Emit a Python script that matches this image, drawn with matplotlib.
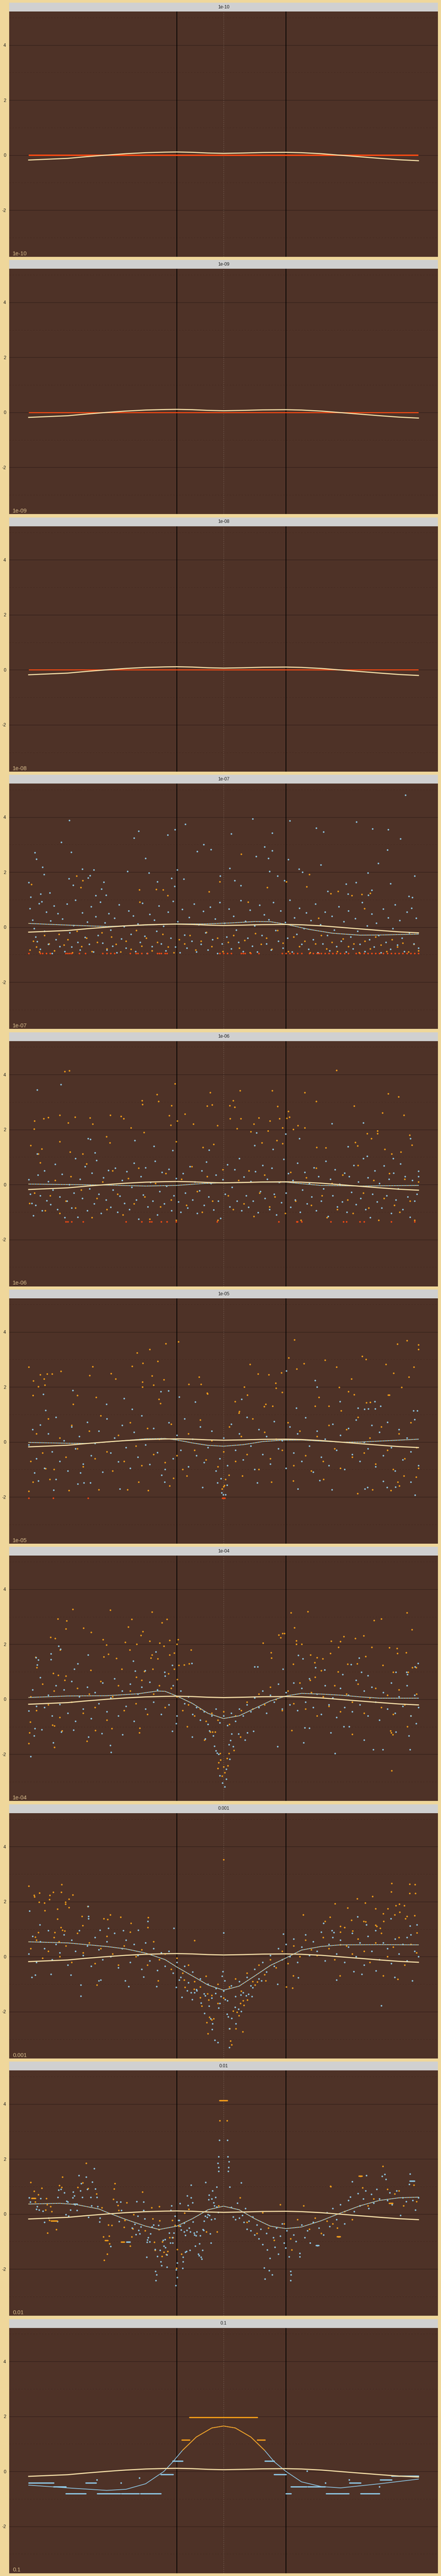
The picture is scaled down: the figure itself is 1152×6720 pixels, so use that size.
import numpy as np
import matplotlib.pyplot as plt

plt.rcParams['font.family'] = ['Liberation Sans', 'DejaVu Sans']

titles = ['1e-10', '1e-09', '1e-08', '1e-07', '1e-06', '1e-05', '1e-04', '0.001', '0.01', '0.1']

# cream reference curve (same in every panel)
ref_x = [0.0, 0.1, 0.15, 0.2, 0.25, 0.3, 0.35, 0.38, 0.42, 0.46, 0.5, 0.55, 0.6, 0.66, 0.7, 0.75, 0.8, 0.85, 0.9, 0.95, 1.0]
ref_y = [-0.18, -0.12, -0.056, 0.0, 0.05, 0.087, 0.106, 0.112, 0.10, 0.075, 0.062, 0.075, 0.093, 0.10, 0.087, 0.05, -0.006, -0.062, -0.118, -0.17, -0.205]

# fitted curves per panel (x, y) for panels 1e-07 .. 0.1
fit_07 = [(0, 0.137), (0.1, 0.075), (0.2, 0.025), (0.3, 0.075), (0.38, 0.118), (0.45, 0.118), (0.52, 0.155), (0.58, 0.205), (0.62, 0.2), (0.66, 0.105), (0.72, -0.08), (0.78, -0.22), (0.85, -0.29), (0.9, -0.285), (1.0, -0.25)]
fit_06 = [(0, 0.018), (0.1, 0.0), (0.2, -0.018), (0.3, -0.054), (0.38, -0.03), (0.45, 0.04), (0.5, 0.066), (0.55, 0.078), (0.6, 0.09), (0.66, 0.09), (0.7, 0.03), (0.75, -0.03), (0.85, -0.054), (1.0, -0.03)]
fit_05 = [(0, -0.018), (0.1, -0.048), (0.15, -0.054), (0.2, -0.006), (0.25, 0.054), (0.3, 0.113), (0.35, 0.125), (0.38, 0.071), (0.42, -0.036), (0.46, -0.125), (0.5, -0.155), (0.55, -0.1), (0.6, 0.012), (0.65, 0.065), (0.7, 0.071), (0.75, 0.03), (0.8, -0.006), (0.85, -0.006), (0.9, 0.03), (1.0, 0.1)]
fit_04 = [(0, 0.066), (0.1, 0.12), (0.2, 0.13), (0.28, 0.2), (0.33, 0.3), (0.35, 0.29), (0.38, 0.12), (0.42, -0.15), (0.46, -0.51), (0.5, -0.7), (0.54, -0.6), (0.58, -0.33), (0.62, -0.06), (0.66, 0.12), (0.7, 0.215), (0.75, 0.19), (0.8, 0.15), (0.85, 0.09), (0.9, 0.04), (1.0, 0.04)]
fit_03 = [(0, 0.54), (0.1, 0.5), (0.2, 0.37), (0.25, 0.28), (0.3, 0.13), (0.35, -0.107), (0.38, -0.376), (0.42, -0.7), (0.46, -1.03), (0.5, -1.22), (0.54, -1.07), (0.58, -0.7), (0.62, -0.32), (0.66, -0.048), (0.7, 0.24), (0.75, 0.37), (0.8, 0.43), (0.9, 0.436), (1.0, 0.43)]
fit_02 = [(0, 0.364), (0.08, 0.39), (0.12, 0.35), (0.18, 0.185), (0.2, 0.066), (0.25, -0.2), (0.3, -0.44), (0.335, -0.56), (0.38, -0.44), (0.42, -0.17), (0.46, 0.155), (0.5, 0.286), (0.54, 0.155), (0.58, -0.17), (0.62, -0.44), (0.66, -0.53), (0.7, -0.47), (0.75, -0.245), (0.8, 0.036), (0.85, 0.3), (0.9, 0.495), (0.95, 0.59), (1.0, 0.614)]
fit_01 = [(0, -0.5), (0.1, -0.6), (0.2, -0.69), (0.25, -0.65), (0.3, -0.45), (0.347, 0.0), (0.37, 0.35), (0.395, 0.77), (0.43, 1.25), (0.47, 1.58), (0.5, 1.65), (0.53, 1.58), (0.57, 1.25), (0.605, 0.77), (0.63, 0.35), (0.66, 0.0), (0.7, -0.38), (0.75, -0.55), (0.8, -0.6), (0.9, -0.45), (1.0, -0.28)]

# scatter points, panel 1e-07
blue_07 = [(0, 1.63), (0.005, 1.1), (0.016, 2.71), (0.02, 2.48), (0.035, 2.19), (0.039, 1.92), (0.031, 1.21), (0.054, 1.25), (0.084, 3.09), (0.104, 3.88),
           (0.109, 2.73), (0.103, 1.77), (0.114, 1.53), (0.138, 2.12), (0.167, 2.09), (0.157, 1.88), (0.152, 1.8), (0.172, 1.15), (0.187, 1.39), (0.193, 1.64),
           (0.198, 1.17), (0.253, 2.03), (0.27, 3.25), (0.282, 3.5), (0.3, 2.5), (0.308, 1.98), (0.33, 1.65), (0.357, 3.35), (0.375, 3.55), (0.381, 2.09),
           (0.366, 1.78), (0.374, 1.49), (0.398, 1.75), (0.402, 3.75), (0.432, 2.76), (0.449, 3.01), (0.468, 2.83), (0.491, 1.87), (0.516, 2.14), (0.52, 3.4),
           (0.528, 1.69), (0.544, 1.51), (0.575, 3.94), (0.583, 2.57), (0.605, 2.92), (0.615, 2.51), (0.618, 2.03), (0.625, 3.42), (0.625, 2.78), (0.638, 1.86),
           (0.656, 1.69), (0.666, 2.47), (0.67, 3.87), (0.693, 2.11), (0.702, 2.01), (0.738, 3.6), (0.749, 2.27), (0.756, 3.47), (0.767, 1.3), (0.841, 3.83),
           (0.84, 1.63), (0.87, 1.98), (0.882, 3.58), (0.897, 2.33), (0.92, 2.81), (0.922, 3.55), (0.928, 1.58), (0.954, 3.22), (0.967, 4.81), (0.99, 1.86),
           (0.814, 1.57), (0.819, 1.21), (0.88, 1.35), (0.871, 1.17), (0.975, 1.12), (0.984, 1.09),
           (0.003, 0.68), (0.01, 0.26), (0.014, -0.05), (0.018, -0.35), (0.022, -0.52), (0.027, 0.86), (0.03, -0.8), (0.033, 0.93), (0.04, -0.15), (0.045, 0.55),
           (0.05, -0.62), (0.056, 0.24), (0.06, -0.95), (0.065, 0.77), (0.07, -0.45), (0.075, 0.5), (0.08, -0.7), (0.087, 0.3), (0.092, -0.88), (0.098, 0.84),
           (0.105, -0.2), (0.11, -0.72), (0.115, 0.07), (0.12, 0.98), (0.126, -0.55), (0.132, -0.83), (0.138, 0.53), (0.144, -0.37), (0.15, 0.19), (0.155, -0.62),
           (0.16, 0.75), (0.166, -0.9), (0.172, 0.38), (0.178, -0.3), (0.184, 0.92), (0.19, -0.58), (0.196, 0.16), (0.2, -0.82), (0.205, 0.5), (0.21, -0.1),
           (0.215, -0.68), (0.22, 0.33), (0.226, -0.92), (0.232, 0.82), (0.238, -0.42), (0.245, 0.02), (0.25, -0.76), (0.256, 0.6), (0.262, -0.25), (0.268, 0.42),
           (0.274, -0.88), (0.28, 0.12), (0.286, -0.55), (0.292, 0.88), (0.298, -0.33), (0.304, -0.95), (0.31, 0.47), (0.316, -0.7), (0.322, 0.26), (0.328, -0.15),
           (0.334, 0.78), (0.34, -0.6), (0.346, 0.04), (0.352, -0.85), (0.358, 0.55), (0.364, -0.4), (0.37, 0.95), (0.376, -0.72), (0.382, 0.2), (0.388, -0.92),
           (0.394, 0.65), (0.4, -0.28), (0.406, -0.75), (0.412, 0.36), (0.418, -0.5), (0.424, 0.85), (0.43, -0.9), (0.436, 0.1), (0.442, -0.62), (0.448, 0.58),
           (0.454, -0.2), (0.46, -0.82), (0.466, 0.74), (0.472, -0.45), (0.478, 0.3), (0.484, -0.95), (0.49, 0.9), (0.496, -0.6), (0.502, 0.15), (0.508, -0.35),
           (0.514, 0.66), (0.52, -0.78), (0.526, 0.4), (0.532, -0.1), (0.538, -0.55), (0.544, 0.97), (0.55, -0.88), (0.556, 0.22), (0.562, -0.4), (0.568, 0.62),
           (0.574, -0.68), (0.58, 0.05), (0.586, -0.9), (0.592, 0.8), (0.598, -0.3), (0.604, 0.45), (0.61, -0.6), (0.616, 0.28), (0.622, -0.82), (0.628, 0.9),
           (0.634, -0.12), (0.64, -0.5), (0.646, 0.6), (0.652, -0.75), (0.658, 0.18), (0.664, -0.4), (0.67, 0.98), (0.676, -0.9), (0.682, 0.35), (0.688, -0.25),
           (0.694, 0.7), (0.7, -0.62), (0.706, -0.05), (0.712, 0.52), (0.718, -0.8), (0.724, 0.25), (0.73, -0.45), (0.736, 0.85), (0.742, -0.92), (0.748, 0.1),
           (0.754, -0.6), (0.76, 0.55), (0.766, -0.3), (0.772, -0.85), (0.778, 0.4), (0.784, -0.1), (0.79, -0.7), (0.796, 0.75), (0.802, -0.5), (0.808, 0.2),
           (0.814, -0.9), (0.82, 0.6), (0.826, -0.35), (0.832, -0.78), (0.838, 0.32), (0.844, -0.15), (0.85, -0.62), (0.856, 0.9), (0.862, -0.88), (0.868, 0.05),
           (0.874, -0.45), (0.88, 0.48), (0.886, -0.72), (0.892, 0.15), (0.898, -0.3), (0.904, -0.92), (0.91, 0.66), (0.916, -0.55), (0.922, 0.35), (0.928, -0.8),
           (0.934, -0.05), (0.94, 0.82), (0.946, -0.65), (0.952, 0.25), (0.958, -0.4), (0.964, -0.88), (0.97, 0.55), (0.976, -0.2), (0.982, 0.7), (0.988, -0.6),
           (0.994, 0.33), (1.0, -0.75)]
orange_07 = [(0.007, 1.56), (0.123, 1.86), (0.139, 1.69), (0.134, 1.45), (0.284, 1.36), (0.285, 0.91), (0.327, 1.37), (0.345, 1.36), (0.357, 1.16), (0.463, 1.29),
             (0.49, 1.65), (0.545, 2.66), (0.563, 0.91), (0.612, 1.45), (0.661, 1.66), (0.713, 1.47), (0.72, 1.92), (0.775, 1.22), (0.794, 1.3), (0.829, 1.16),
             (0.855, 1.19), (0.876, 1.24), (0.861, 0.68), (0.744, 0.33),
             (0.003, -0.83), (0.012, -0.5), (0.02, -0.72), (0.028, -0.9), (0.04, -0.3), (0.052, -0.6), (0.066, -0.85), (0.078, -0.25), (0.09, -0.65), (0.1, -0.45),
             (0.112, -0.92), (0.124, -0.15), (0.136, -0.7), (0.148, -0.4), (0.162, -0.88), (0.176, -0.55), (0.188, -0.2), (0.2, -0.78), (0.212, -0.35), (0.224, -0.62),
             (0.236, -0.9), (0.25, -0.5), (0.262, -0.8), (0.276, -0.12), (0.29, -0.68), (0.302, -0.4), (0.316, -0.85), (0.33, -0.55), (0.344, -0.25), (0.358, -0.72),
             (0.372, -0.92), (0.386, -0.45), (0.4, -0.6), (0.414, -0.3), (0.428, -0.82), (0.442, -0.5), (0.456, -0.18), (0.47, -0.7), (0.484, -0.4), (0.498, -0.88),
             (0.512, -0.55), (0.526, -0.3), (0.54, -0.75), (0.554, -0.48), (0.568, -0.92), (0.582, -0.22), (0.596, -0.62), (0.61, -0.4), (0.624, -0.8), (0.638, -0.12),
             (0.652, -0.58), (0.666, -0.88), (0.68, -0.35), (0.694, -0.7), (0.708, -0.5), (0.722, -0.92), (0.736, -0.6), (0.75, -0.3), (0.764, -0.78), (0.778, -0.55),
             (0.792, -0.88), (0.806, -0.42), (0.82, -0.7), (0.834, -0.6), (0.848, -0.92), (0.862, -0.5), (0.876, -0.78), (0.89, -0.35), (0.904, -0.65), (0.918, -0.88),
             (0.932, -0.45), (0.946, -0.72), (0.96, -0.58), (0.974, -0.9), (0.988, -0.62), (1.0, -0.85)]
red_07_x = [0.0, 0.03, 0.035, 0.045, 0.055, 0.095, 0.1, 0.105, 0.11, 0.13, 0.145, 0.19, 0.2, 0.21, 0.22, 0.26, 0.275, 0.28, 0.29, 0.305, 0.33, 0.335,
            0.34, 0.35, 0.355, 0.49, 0.5, 0.51, 0.52, 0.545, 0.55, 0.555, 0.57, 0.59, 0.65, 0.66, 0.67, 0.68, 0.69, 0.7, 0.72, 0.73, 0.74, 0.745, 0.75,
            0.76, 0.77, 0.78, 0.79, 0.8, 0.81, 0.82, 0.84, 0.85, 0.86, 0.87, 0.88, 0.89, 0.9, 0.91, 0.92, 0.93, 0.94, 0.95, 0.96, 0.97, 0.98, 0.99, 1.0]
red_07_y = -0.95

# panel 1e-06
orange_06 = [(0.092, 4.12), (0.104, 4.14), (0.08, 2.52), (0.101, 2.24), (0.015, 2.32), (0.014, 2.02), (0.038, 2.4), (0.05, 2.44), (0.119, 2.46), (0.157, 2.43),
             (0.164, 2.2), (0.209, 2.53), (0.237, 2.48), (0.244, 2.4), (0.262, 2.06), (0.291, 3.05), (0.292, 2.92), (0.296, 1.9), (0.329, 3.28), (0.333, 3.02),
             (0.361, 2.51), (0.366, 2.87), (0.364, 2.16), (0.375, 3.67), (0.381, 2.32), (0.378, 1.56), (0.401, 2.56), (0.422, 2.21), (0.458, 2.86), (0.466, 3.35),
             (0.471, 2.9), (0.484, 2.15), (0.516, 2.87), (0.525, 3.05), (0.528, 2.82), (0.517, 2.4), (0.534, 2.04), (0.542, 3.41), (0.544, 2.4), (0.57, 1.93),
             (0.578, 2.2), (0.59, 2.42), (0.614, 1.95), (0.619, 2.32), (0.625, 3.41), (0.638, 2.84), (0.643, 2.4), (0.651, 2.06), (0.662, 2.41), (0.666, 2.66),
             (0.669, 2.45), (0.679, 2.01), (0.691, 2.15), (0.708, 3.35), (0.708, 2.07), (0.738, 3.03), (0.79, 4.15), (0.835, 2.86), (0.908, 2.61), (0.922, 3.3),
             (0.949, 3.2), (0.963, 2.52), (0.895, 1.96), (0.895, 1.86), (0.977, 1.8), (0.983, 1.44), (0.005, 1.43), (0.033, 1.3), (0.08, 1.56), (0.838, 1.53),
             (0.844, 1.41), (0.739, 1.35), (0.762, 1.34), (0.637, 1.61), (0.651, 1.5), (0.598, 1.52), (0.474, 1.47), (0.447, 1.35), (0.199, 1.74), (0.208, 1.52),
             (0.139, 1.12), (0.106, 1.18), (0.025, 1.12), (0.913, 1.29), (0.931, 1.12), (0.955, 1.18), (0.868, 1.86), (0.879, 1.68),
             (0.002, -0.68), (0.015, -0.3), (0.03, 0.8), (0.042, -0.95), (0.055, -0.4), (0.068, 0.15), (0.08, -1.05), (0.095, -0.6), (0.108, 0.3), (0.12, -0.85),
             (0.135, -0.2), (0.148, 0.75), (0.162, -1.2), (0.175, -0.5), (0.19, 0.1), (0.2, -0.9), (0.215, 0.5), (0.228, -0.35), (0.242, -1.1), (0.255, 0.22),
             (0.27, -0.7), (0.282, 0.6), (0.298, -0.45), (0.31, -1.25), (0.325, 0.05), (0.338, -0.8), (0.352, 0.4), (0.365, -0.55), (0.378, -1.3), (0.392, 0.2),
             (0.405, -0.75), (0.418, 0.65), (0.432, -0.25), (0.445, -1.0), (0.458, 0.3), (0.472, -0.6), (0.485, -1.3), (0.498, 0.55), (0.512, -0.4), (0.525, -0.9),
             (0.538, 0.15), (0.552, -0.7), (0.565, 0.5), (0.578, -1.15), (0.592, -0.3), (0.605, 0.35), (0.618, -0.8), (0.632, -0.45), (0.645, 0.1), (0.658, -1.05),
             (0.672, 0.45), (0.685, -0.6), (0.698, -1.3), (0.712, 0.25), (0.725, -0.75), (0.738, 0.6), (0.752, -0.4), (0.765, -1.2), (0.778, 0.05), (0.792, -0.9),
             (0.805, 0.35), (0.818, -0.55), (0.832, -1.05), (0.845, 0.7), (0.858, -0.3), (0.872, -0.85), (0.885, 0.15), (0.898, -1.3), (0.912, -0.5), (0.925, 0.4),
             (0.938, -0.75), (0.952, -1.0), (0.965, 0.2), (0.978, -0.6), (0.99, -1.3), (1.0, 0.1)]
blue_06 = [(0.022, 3.45), (0.083, 3.64), (0.152, 1.68), (0.158, 1.65), (0.17, 1.16), (0.272, 1.6), (0.321, 1.4), (0.369, 1.24), (0.463, 1.25), (0.584, 1.89),
           (0.58, 1.43), (0.627, 1.28), (0.659, 1.84), (0.694, 1.68), (0.778, 2.22), (0.819, 1.38), (0.858, 2.24), (0.979, 1.68), (1.0, 0.49), (0.022, 1.12),
           (0.868, 1.04), (0.935, 0.95),
           (0.0, 0.18), (0.004, -0.35), (0.008, -0.68), (0.012, -1.13), (0.018, -0.75), (0.024, 0.35), (0.03, -0.4), (0.034, -0.95), (0.04, 0.5), (0.046, -0.58),
           (0.05, 0.12), (0.056, -0.72), (0.062, -0.2), (0.068, 0.74), (0.074, -0.9), (0.08, -0.45), (0.086, 0.38), (0.092, -1.2), (0.098, -0.6), (0.104, 0.0),
           (0.11, -0.85), (0.116, -0.3), (0.12, 0.95), (0.126, -1.18), (0.132, 0.2), (0.138, -0.5), (0.144, 0.65), (0.15, -0.95), (0.156, -0.15), (0.162, 0.42),
           (0.168, -0.7), (0.174, 0.88), (0.18, -0.35), (0.186, -1.05), (0.192, 0.25), (0.198, -0.55), (0.204, 0.52), (0.21, -0.82), (0.216, -0.2), (0.222, 0.6),
           (0.228, -1.0), (0.234, -0.42), (0.24, 0.15), (0.246, -0.68), (0.252, 0.48), (0.258, -0.9), (0.264, -0.1), (0.27, 0.78), (0.276, -0.55), (0.282, -1.25),
           (0.288, 0.3), (0.294, -0.38), (0.3, 0.62), (0.306, -0.8), (0.312, 0.08), (0.318, -0.6), (0.324, 0.85), (0.33, -1.1), (0.336, -0.25), (0.342, 0.45),
           (0.348, -0.7), (0.354, -0.05), (0.36, 0.56), (0.366, -0.95), (0.372, -0.4), (0.378, 0.22), (0.384, -0.62), (0.39, -1.0), (0.396, 0.4), (0.402, -0.3),
           (0.408, -0.85), (0.414, 0.66), (0.42, -0.55), (0.426, 0.1), (0.432, -1.05), (0.438, -0.22), (0.444, 0.5), (0.45, -0.75), (0.456, 0.82), (0.462, -0.45),
           (0.468, 0.05), (0.474, -0.92), (0.48, 0.35), (0.486, -0.6), (0.492, -1.22), (0.498, 0.18), (0.504, -0.35), (0.51, 0.72), (0.516, -0.8), (0.522, -0.1),
           (0.528, 0.55), (0.534, -0.6), (0.54, 0.95), (0.546, -0.95), (0.552, 0.28), (0.558, -0.4), (0.564, -0.82), (0.57, 0.12), (0.576, -0.6), (0.582, 0.48),
           (0.588, -1.02), (0.594, -0.25), (0.6, 0.7), (0.606, -0.5), (0.612, 0.2), (0.618, -0.9), (0.624, 0.6), (0.63, -0.35), (0.636, -1.1), (0.642, 0.08),
           (0.648, -0.65), (0.654, 0.92), (0.66, -0.3), (0.666, 0.4), (0.672, -0.82), (0.678, 0.15), (0.684, -0.55), (0.69, 0.78), (0.696, -1.0), (0.702, -0.2),
           (0.708, 0.45), (0.714, -0.7), (0.72, 0.05), (0.726, -0.45), (0.732, 0.62), (0.738, -0.95), (0.744, 0.3), (0.75, -0.6), (0.756, -0.15), (0.762, 0.85),
           (0.768, -1.15), (0.774, 0.2), (0.78, -0.4), (0.786, 0.55), (0.792, -0.8), (0.798, 0.02), (0.804, -0.62), (0.81, 0.42), (0.816, -1.0), (0.822, 0.3),
           (0.828, -0.28), (0.834, 0.7), (0.84, -0.72), (0.846, 0.1), (0.852, -0.5), (0.858, 0.95), (0.864, -0.9), (0.87, 0.25), (0.876, -1.2), (0.882, -0.35),
           (0.888, 0.5), (0.894, -0.62), (0.9, 0.05), (0.906, -0.85), (0.912, 0.68), (0.918, -0.4), (0.924, 0.2), (0.93, -1.05), (0.936, 0.42), (0.942, -0.55),
           (0.948, -0.15), (0.954, 0.76), (0.96, -0.9), (0.966, 0.3), (0.972, -0.45), (0.978, -1.18), (0.984, 0.15), (0.99, -0.6), (0.996, -0.35), (1.0, 0.3)]
red_06_x = [0.095, 0.1, 0.11, 0.14, 0.25, 0.29, 0.31, 0.315, 0.34, 0.355, 0.378, 0.483, 0.641, 0.688, 0.69, 0.7, 0.775, 0.807, 0.815, 0.85, 0.86, 0.93, 0.99]
red_06_y = -1.35

# panel 1e-05
orange_05 = [(0, 2.72), (0.012, 2.23), (0.011, 1.69), (0.025, 2.02), (0.03, 2.45), (0.039, 2.3), (0.047, 2.48), (0.06, 2.48), (0.083, 2.57), (0.125, 1.7),
             (0.114, 1.38), (0.156, 2.42), (0.164, 2.74), (0.173, 1.62), (0.211, 2.49), (0.223, 2.3), (0.278, 3.24), (0.265, 2.75), (0.292, 2.18), (0.292, 2.0),
             (0.293, 2.87), (0.31, 3.36), (0.316, 2.4), (0.32, 2.07), (0.331, 2.93), (0.334, 1.55), (0.338, 1.4), (0.347, 2.26), (0.352, 3.58), (0.384, 3.64),
             (0.411, 2.1), (0.437, 2.36), (0.442, 2.1), (0.458, 1.78), (0.459, 1.75), (0.553, 2.0), (0.561, 1.71), (0.568, 2.82), (0.588, 2.48), (0.616, 2.44),
             (0.635, 1.96), (0.648, 2.52), (0.65, 1.8), (0.667, 3.06), (0.682, 3.71), (0.688, 2.65), (0.706, 2.85), (0.76, 2.98), (0.79, 2.73), (0.797, 1.98),
             (0.82, 1.83), (0.828, 2.29), (0.835, 1.72), (0.856, 3.11), (0.865, 3.0), (0.866, 1.43), (0.916, 2.82), (0.936, 2.5), (0.946, 3.56), (0.957, 1.98),
             (0.97, 3.68), (0.975, 2.36), (0.988, 2.73), (1.0, 3.54), (1.0, 3.36), (0.922, 1.71), (0.925, 1.71), (0.876, 1.44), (0.735, 1.31), (0.77, 1.3),
             (0.802, 1.14), (0.745, 1.62), (0.608, 1.38), (0.604, 1.29), (0.626, 1.31), (0.529, 1.47), (0.539, 1.05), (0.54, 1.11), (0.634, 2.14), (0.041, 2.07),
             (0, -1.79), (0.011, -1.46), (0.043, -0.97), (0.054, -1.36), (0.103, -1.76), (0.18, -1.73), (0.253, -1.73), (0.282, -1.45), (0.307, -1.76), (0.362, -1.6),
             (0.371, -1.32), (0.406, -1.24), (0.496, -1.7), (0.5, -1.63), (0.505, -1.36), (0.502, -1.58), (0.514, -1.2), (0.548, -1.23), (0.623, -1.45), (0.679, -1.42),
             (0.756, -1.36), (0.844, -1.88), (0.882, -1.73), (0.929, -1.76), (0.947, -1.45), (0.951, -1.6), (0.963, -1.23), (0.994, -1.27), (1.0, -0.95),
             (0.005, -0.7), (0.02, 0.3), (0.035, -0.4), (0.05, 0.85), (0.065, -1.0), (0.08, 0.15), (0.095, -0.55), (0.11, 0.6), (0.125, -0.25), (0.14, -0.9),
             (0.155, 0.4), (0.17, -0.6), (0.185, 0.95), (0.2, -0.35), (0.215, -1.05), (0.23, 0.25), (0.245, -0.7), (0.26, 0.7), (0.275, -0.15), (0.29, -0.85),
             (0.305, 0.5), (0.32, -0.45), (0.335, 0.1), (0.35, -0.75), (0.365, 0.65), (0.38, -0.5), (0.395, -1.0), (0.41, 0.3), (0.425, -0.3), (0.44, 0.8),
             (0.455, -0.65), (0.47, 0.05), (0.485, -0.9), (0.5, -0.35), (0.515, 0.55), (0.53, -0.7), (0.545, 0.2), (0.56, -0.45), (0.575, 0.85), (0.59, -1.0),
             (0.605, 0.35), (0.62, -0.6), (0.635, 0.1), (0.65, -0.3), (0.665, 0.7), (0.68, -0.85), (0.695, 0.4), (0.71, -0.5), (0.725, -1.05), (0.74, 0.2),
             (0.755, -0.7), (0.77, 0.6), (0.785, -0.25), (0.8, -0.95), (0.815, 0.45), (0.83, -0.55), (0.845, 0.9), (0.86, -0.4), (0.875, 0.15), (0.89, -0.8),
             (0.905, 0.55), (0.92, -0.3), (0.935, -1.0), (0.95, 0.3), (0.965, -0.6), (0.98, 0.7), (0.995, -0.2)]
blue_05 = [(0.043, 1.15), (0.037, 1.73), (0.113, 1.87), (0.199, 1.38), (0.245, 1.58), (0.265, 1.19), (0.339, 1.84), (0.359, 1.86), (0.386, 1.64), (0.427, 1.46),
           (0.546, 1.55), (0.661, 2.58), (0.735, 2.24), (0.74, 2.0), (0.799, 1.47), (0.888, 1.47), (0.987, 1.14), (0.997, 1.13), (0.687, 1.23), (0.845, 1.24),
           (0.861, 1.19), (0.871, 1.2), (0.889, 1.21), (0.903, 1.31),
           (0.015, -1.12), (0.025, -1.42), (0.064, -1.75), (0.07, -1.36), (0.126, -1.52), (0.133, -1.12), (0.142, -1.48), (0.158, -1.48), (0.234, -1.7), (0.341, -1.2),
           (0.349, -1.45), (0.446, -1.65), (0.484, -1.48), (0.493, -1.33), (0.495, -1.85), (0.499, -1.91), (0.505, -1.91), (0.509, -1.57), (0.586, -1.49), (0.691, -1.71),
           (0.747, -1.4), (0.778, -1.73), (0.862, -1.7), (0.869, -1.65), (0.91, -1.43), (0.919, -1.65), (0.941, -1.64), (0.98, -1.45), (0.991, -1.93),
           (0.0, -0.1), (0.01, 0.45), (0.02, -0.6), (0.03, 0.62), (0.04, -0.95), (0.05, 0.3), (0.06, -0.35), (0.07, 0.9), (0.08, -0.7), (0.09, 0.05),
           (0.1, -1.05), (0.11, 0.55), (0.12, -0.25), (0.13, 0.2), (0.14, -0.8), (0.15, 0.72), (0.16, -0.5), (0.17, -0.05), (0.18, 0.4), (0.19, -1.1),
           (0.2, 0.85), (0.21, -0.4), (0.22, 0.15), (0.23, -0.72), (0.24, 0.6), (0.25, -0.2), (0.26, -0.95), (0.27, 0.35), (0.28, -0.55), (0.29, 0.95),
           (0.3, -0.1), (0.31, -0.82), (0.32, 0.5), (0.33, -0.38), (0.34, 0.12), (0.35, -1.0), (0.36, 0.7), (0.37, -0.6), (0.38, 0.25), (0.39, -0.3),
           (0.4, 0.85), (0.41, -0.9), (0.42, 0.1), (0.43, -0.5), (0.44, 0.55), (0.45, -0.75), (0.46, -0.2), (0.47, 0.4), (0.48, -1.05), (0.49, -0.6),
           (0.5, 0.15), (0.51, -0.85), (0.52, 0.65), (0.53, -0.3), (0.54, 0.3), (0.55, -0.65), (0.56, 0.9), (0.57, -0.15), (0.58, -1.0), (0.59, 0.45),
           (0.6, -0.45), (0.61, 0.2), (0.62, -0.8), (0.63, 0.75), (0.64, -0.25), (0.65, 0.05), (0.66, -0.95), (0.67, 0.55), (0.68, -0.4), (0.69, 0.3),
           (0.7, -0.7), (0.71, 0.88), (0.72, -0.15), (0.73, -1.1), (0.74, 0.4), (0.75, -0.55), (0.76, 0.1), (0.77, -0.85), (0.78, 0.65), (0.79, -0.3),
           (0.8, 0.25), (0.81, -1.0), (0.82, 0.5), (0.83, -0.45), (0.84, 0.8), (0.85, -0.7), (0.86, 0.0), (0.87, -0.25), (0.88, 0.6), (0.89, -0.9),
           (0.9, 0.35), (0.91, -0.5), (0.92, 0.72), (0.93, -0.2), (0.94, -1.05), (0.95, 0.45), (0.96, -0.65), (0.97, 0.15), (0.98, -0.35), (0.99, 0.82), (1.0, -0.85)]
red_05_x = [0.0, 0.063, 0.152, 0.497, 0.5, 0.503]
red_05_y = -2.04

# panel 1e-04
orange_04 = [(0.056, 2.25), (0.068, 2.22), (0.075, 2.93), (0.081, 1.8), (0.095, 2.57), (0.097, 2.85), (0.113, 3.28), (0.141, 2.59), (0.16, 2.44), (0.191, 2.17),
             (0.193, 1.55), (0.199, 1.98), (0.204, 1.65), (0.209, 3.24), (0.225, 1.49), (0.248, 2.08), (0.255, 2.64), (0.259, 1.8), (0.264, 2.91), (0.277, 2.0),
             (0.288, 2.32), (0.293, 2.46), (0.31, 2.12), (0.313, 1.5), (0.316, 1.61), (0.316, 3.17), (0.331, 1.47), (0.336, 2.05), (0.342, 2.79), (0.347, 1.93),
             (0.355, 2.91), (0.362, 2.14), (0.362, 1.62), (0.373, 1.69), (0.38, 2.01), (0.383, 2.17), (0.417, 1.8), (0.385, 1.24), (0.399, 1.25), (0.412, 1.3),
             (0.673, 3.15), (0.682, 2.61), (0.687, 2.13), (0.687, 2.0), (0.7, 2.0), (0.716, 3.19), (0.651, 2.4), (0.656, 2.39), (0.641, 2.34), (0.646, 2.24),
             (0.601, 2.05), (0.622, 1.7), (0.623, 1.5), (0.679, 1.28), (0.723, 1.61), (0.734, 1.34), (0.754, 1.47), (0.774, 1.67), (0.776, 2.12), (0.795, 1.9),
             (0.8, 2.11), (0.808, 2.29), (0.838, 2.21), (0.859, 2.31), (0.864, 1.56), (0.88, 1.89), (0.886, 2.87), (0.905, 2.93), (0.925, 1.88), (0.945, 1.85),
             (0.946, 1.67), (0.968, 1.7), (0.97, 3.15), (0.983, 2.53), (0.984, 1.15), (0.994, 1.15), (0.818, 1.28), (0.843, 1.3), (0.794, 1.0), (0.735, 0.81),
             (0.75, 1.04), (0.722, 0.69), (0.74, 1.52), (0.018, 1.53), (0.021, 1.16), (0.063, 0.94), (0.076, 0.88), (0.092, 0.69), (0.159, 1.06), (0.239, 1.1),
             (0.276, 0.81), (0.297, 1.01), (0.318, 1.1), (0.359, 0.93), (0.373, 1.1), (0.381, 0.73), (0.909, 1.24), (0.935, 0.99), (0.973, 0.99),
             (0, -1.6), (0.002, -1.21), (0.004, -0.82), (0.061, -0.94), (0.066, -1.74), (0.066, -0.96), (0.086, -1.15), (0.149, -1.52), (0.171, -1.13), (0.213, -1.06),
             (0.284, -1.22), (0.285, -1.04), (0.407, -0.99), (0.451, -1.48), (0.466, -1.19), (0.472, -1.18), (0.478, -1.19), (0.491, -1.97), (0.492, -2.21), (0.485, -2.51),
             (0.487, -2.3), (0.496, -2.79), (0.503, -2.66), (0.5, -2.45), (0.511, -2.41), (0.509, -2.15), (0.514, -1.97), (0.527, -1.85), (0.543, -1.37), (0.675, -1.13),
             (0.83, -1.27), (0.931, -2.59), (0.93, -1.22), (0.934, -1.28), (0.928, -1.15), (0.971, -0.99),
             (0.005, 0.1), (0.02, -0.4), (0.035, 0.55), (0.05, -0.2), (0.065, 0.3), (0.08, -0.65), (0.095, 0.85), (0.11, -0.1), (0.125, 0.4), (0.14, -0.5),
             (0.155, 0.2), (0.17, -0.3), (0.185, 0.65), (0.2, -0.75), (0.215, 0.1), (0.23, 0.5), (0.245, -0.4), (0.26, 0.3), (0.275, -0.15), (0.29, 0.7),
             (0.305, -0.55), (0.32, 0.2), (0.335, 0.5), (0.35, -0.3), (0.365, 0.4), (0.38, 0.1), (0.395, -0.4), (0.41, -0.2), (0.425, -0.6), (0.44, -0.35),
             (0.455, -0.8), (0.47, -0.5), (0.485, -0.75), (0.5, -0.45), (0.515, -0.9), (0.53, -0.6), (0.545, -0.4), (0.56, -0.1), (0.575, -0.35), (0.59, 0.2),
             (0.605, -0.2), (0.62, 0.45), (0.635, 0.0), (0.65, -0.4), (0.665, 0.3), (0.68, -0.15), (0.695, 0.6), (0.71, -0.35), (0.725, 0.25), (0.74, -0.6),
             (0.755, 0.1), (0.77, -0.25), (0.785, 0.5), (0.8, -0.45), (0.815, 0.2), (0.83, -0.1), (0.845, 0.55), (0.86, -0.5), (0.875, 0.05), (0.89, 0.4),
             (0.905, -0.3), (0.92, 0.15), (0.935, -0.55), (0.95, 0.35), (0.965, -0.2), (0.98, -0.6), (0.995, 0.2)]
blue_04 = [(0.025, 1.43), (0.022, 1.25), (0.019, 1.52), (0.057, 1.66), (0.057, 1.45), (0.077, 1.94), (0.082, 1.82), (0.126, 1.3), (0.117, 1.1), (0.152, 1.62),
           (0.268, 1.39), (0.273, 1.03), (0.299, 1.04), (0.326, 1.73), (0.349, 0.99), (0.368, 1.24), (0.418, 1.31), (0.58, 1.18), (0.587, 1.18), (0.652, 1.1),
           (0.692, 1.6), (0.703, 1.48), (0.736, 1.16), (0.759, 1.07), (0.805, 0.9), (0.827, 1.27), (0.848, 1.51), (0.854, 0.99), (0.87, 0.87), (0.969, 0.99),
           (0.991, 1.18), (0.999, 1.31), (0.971, 0.91), (0.942, 0.99),
           (0.005, -2.08), (0.014, -1.33), (0.016, -1.06), (0.033, -1.1), (0.063, -1.58), (0.084, -1.19), (0.115, -1.12), (0.153, -1.36), (0.188, -1.24), (0.209, -1.67),
           (0.211, -1.93), (0.241, -1.28), (0.368, -1.16), (0.378, -0.88), (0.419, -1.37), (0.453, -1.43), (0.464, -1.15), (0.473, -1.33), (0.476, -1.7), (0.48, -1.87),
           (0.483, -1.95), (0.487, -2.0), (0.49, -2.78), (0.497, -3.04), (0.503, -3.18), (0.507, -2.9), (0.507, -2.54), (0.516, -2.17), (0.514, -1.64), (0.518, -1.49),
           (0.525, -1.71), (0.521, -1.25), (0.538, -1.25), (0.555, -1.48), (0.561, -1.21), (0.577, -1.16), (0.638, -1.71), (0.705, -1.58), (0.72, -1.04), (0.708, -1.03),
           (0.775, -1.22), (0.786, -1.96), (0.86, -1.48), (0.884, -1.83), (0.909, -1.83), (0.942, -1.19), (0.975, -1.33), (0.978, -1.82), (0.994, -0.88), (0.822, -0.99),
           (0.808, -0.99),
           (0.0, -0.42), (0.01, 0.35), (0.02, -0.25), (0.03, 0.8), (0.04, -0.3), (0.05, 0.15), (0.06, -0.6), (0.07, 0.5), (0.08, -0.18), (0.09, 0.35),
           (0.1, -0.5), (0.11, 0.65), (0.12, -0.8), (0.13, 0.1), (0.14, -0.35), (0.15, 0.45), (0.16, -0.7), (0.17, 0.25), (0.18, -0.15), (0.19, 0.6),
           (0.2, -0.45), (0.21, 0.05), (0.22, 0.75), (0.23, -0.6), (0.24, 0.3), (0.25, -0.25), (0.26, 0.55), (0.27, -0.8), (0.28, 0.2), (0.29, 0.45),
           (0.3, -0.35), (0.31, 0.62), (0.32, -0.1), (0.33, 0.35), (0.34, -0.55), (0.35, 0.85), (0.36, -0.2), (0.37, 0.5), (0.38, -0.6), (0.39, 0.3),
           (0.4, -0.15), (0.41, 0.1), (0.42, -0.55), (0.43, -0.3), (0.44, -0.75), (0.45, -0.45), (0.46, -0.9), (0.47, -0.6), (0.48, -0.35), (0.49, -0.85),
           (0.5, -0.6), (0.51, -0.95), (0.52, -0.5), (0.53, -0.8), (0.54, -0.35), (0.55, -0.6), (0.56, -0.2), (0.57, -0.45), (0.58, 0.05), (0.59, -0.3),
           (0.6, 0.3), (0.61, -0.5), (0.62, 0.15), (0.63, -0.1), (0.64, 0.55), (0.65, -0.35), (0.66, 0.25), (0.67, -0.2), (0.68, 0.6), (0.69, -0.4),
           (0.7, 0.4), (0.71, -0.1), (0.72, 0.75), (0.73, -0.3), (0.74, 0.2), (0.75, -0.55), (0.76, 0.5), (0.77, -0.2), (0.78, 0.05), (0.79, -0.65),
           (0.8, 0.4), (0.81, -0.3), (0.82, 0.15), (0.83, -0.45), (0.84, 0.7), (0.85, -0.2), (0.86, 0.3), (0.87, -0.6), (0.88, 0.45), (0.89, -0.1),
           (0.9, -0.75), (0.91, 0.25), (0.92, -0.35), (0.93, 0.6), (0.94, -0.5), (0.95, 0.1), (0.96, -0.25), (0.97, 0.5), (0.98, -0.6), (0.99, 0.15), (1.0, -0.3)]

# panel 0.001
orange_03 = [(0, 2.57), (0.014, 2.24), (0.015, 2.18), (0.028, 2.32), (0.027, 1.98), (0.04, 1.96), (0.041, 1.68), (0.053, 2.08), (0.054, 2.24), (0.063, 2.35),
             (0.074, 1.73), (0.074, 1.37), (0.084, 2.34), (0.085, 2.63), (0.094, 1.98), (0.094, 1.91), (0.103, 2.1), (0.103, 1.79), (0.113, 2.25), (0.083, 1.06),
             (0.087, 0.97), (0.092, 0.94), (0.067, 0.88), (0.025, 0.88), (0.017, 0.72), (0.078, 0.55), (0.137, 1.47), (0.139, 1.13), (0.151, 1.83), (0.209, 1.52),
             (0.236, 1.44), (0.262, 1.22), (0.307, 1.43), (0.306, 1.06), (0.202, 1.36), (0.193, 1.39),
             (0.786, 1.93), (0.773, 1.44), (0.76, 1.28), (0.704, 1.52), (0.818, 1.77), (0.828, 1.33), (0.843, 2.11), (0.859, 1.28), (0.863, 1.95), (0.882, 2.19),
             (0.89, 1.74), (0.911, 1.28), (0.91, 1.56), (0.921, 1.74), (0.93, 2.36), (0.931, 2.67), (0.939, 1.53), (0.942, 1.86), (0.951, 1.92), (0.952, 1.62),
             (0.964, 1.86), (0.967, 1.39), (0.97, 1.47), (0.977, 2.64), (0.977, 2.31), (0.991, 2.62), (0.992, 2.3), (0.99, 1.49), (0.996, 0.87), (0.902, 1.04),
             (0.81, 1.06), (0.8, 1.1), (0.831, 0.94), (0.8, 0.43), (0.864, 1.27), (0.89, 1.15), (0.893, 1.1), (0.5, 3.53), (0.425, 0.59),
             (0.175, -1.02), (0.332, -0.88), (0.399, -0.85), (0.401, -1.11), (0.424, -1.18), (0.44, -1.48), (0.444, -1.8), (0.459, -1.35), (0.462, -1.57), (0.464, -2.2),
             (0.457, -2.39), (0.47, -2.3), (0.46, -2.79), (0.474, -2.26), (0.485, -1.69), (0.516, -2.61), (0.518, -3.06), (0.521, -3.2), (0.525, -1.97), (0.531, -2.61),
             (0.534, -2.02), (0.539, -2.14), (0.543, -1.69), (0.549, -2.73), (0.55, -1.6), (0.561, -1.57), (0.552, -1.77), (0.581, -1.03), (0.586, -0.91), (0.608, -0.87),
             (0.661, -1.09), (0.677, -1.14), (0.679, -0.69), (0.799, -0.69), (0.91, -0.69), (0.947, -0.82),
             (0.005, 0.3), (0.02, 0.6), (0.035, -0.05), (0.05, 0.2), (0.065, 0.7), (0.08, 0.0), (0.095, 0.4), (0.11, -0.2), (0.125, 0.85), (0.14, 0.15),
             (0.155, 0.5), (0.17, -0.25), (0.185, 0.3), (0.2, 0.75), (0.215, 0.1), (0.23, -0.3), (0.245, 0.4), (0.26, 0.9), (0.275, 0.0), (0.29, 0.25),
             (0.305, -0.3), (0.32, 0.55), (0.335, -0.1), (0.35, 0.1), (0.365, -0.45), (0.38, -0.05), (0.395, -0.6), (0.41, -0.3), (0.425, -0.9), (0.44, -1.1),
             (0.455, -0.7), (0.47, -1.4), (0.485, -1.0), (0.5, -1.5), (0.515, -1.1), (0.53, -0.8), (0.545, -1.25), (0.56, -0.6), (0.575, -0.9), (0.59, -0.3),
             (0.605, -0.65), (0.62, -0.1), (0.635, -0.4), (0.65, 0.2), (0.665, -0.25), (0.68, 0.4), (0.695, 0.0), (0.71, 0.6), (0.725, 0.25), (0.74, 0.05),
             (0.755, 0.7), (0.77, 0.3), (0.785, -0.1), (0.8, 0.9), (0.815, 0.4), (0.83, 0.1), (0.845, 0.65), (0.86, 0.2), (0.875, -0.2), (0.89, 0.5),
             (0.905, 0.85), (0.92, 0.0), (0.935, 0.35), (0.95, 0.7), (0.965, -0.3), (0.98, 0.45), (0.995, 0.15)]
blue_03 = [(0.002, 1.66), (0.029, 1.16), (0.152, 1.83), (0.153, 1.47), (0.153, 1.39), (0.183, 0.97), (0.204, 1.03), (0.243, 0.95), (0.281, 0.97), (0.306, 1.28),
           (0.372, 1.03), (0.5, 0.87), (0.653, 0.82), (0.783, 0.88), (0.844, 1.46), (0.866, 1.16), (0.929, 1.39), (0.97, 0.7), (0.978, 1.12), (0.996, 1.16),
           (0.756, 1.22), (0.778, 0.95),
           (0.008, -0.75), (0.017, -0.67), (0.057, -0.64), (0.108, -0.67), (0.134, -1.02), (0.134, -1.43), (0.18, -0.87), (0.185, -0.85), (0.248, -0.87), (0.256, -1.08),
           (0.295, -0.73), (0.328, -1.08), (0.378, -1.11), (0.386, -0.84), (0.393, -1.47), (0.407, -1.24), (0.417, -1.3), (0.419, -1.55), (0.425, -1.31), (0.431, -1.23),
           (0.442, -1.68), (0.451, -2.06), (0.453, -1.42), (0.463, -1.79), (0.467, -2.26), (0.472, -2.44), (0.471, -2.64), (0.477, -3.03), (0.485, -3.12), (0.479, -1.33),
           (0.487, -1.87), (0.493, -1.45), (0.496, -0.7), (0.498, -0.54), (0.503, -0.88), (0.504, -1.55), (0.509, -2.08), (0.512, -2.19), (0.515, -2.61), (0.515, -3.3),
           (0.521, -2.24), (0.531, -2.44), (0.529, -1.84), (0.538, -1.9), (0.545, -1.99), (0.544, -1.39), (0.558, -1.42), (0.564, -1.36), (0.573, -1.45), (0.575, -1.12),
           (0.597, -0.88), (0.638, -1.0), (0.692, -0.76), (0.79, -0.85), (0.905, -1.78), (0.939, -0.75), (0.984, -0.88), (0.891, -0.51), (0.855, -0.64), (0.834, -0.54),
           (0.0, 0.1), (0.01, 0.75), (0.02, -0.2), (0.03, 0.55), (0.04, 0.3), (0.05, 0.95), (0.06, -0.1), (0.07, 0.45), (0.08, 0.15), (0.09, 0.8),
           (0.1, -0.3), (0.11, 0.6), (0.12, 0.2), (0.13, 0.95), (0.14, 0.05), (0.15, 0.4), (0.16, -0.35), (0.17, 0.7), (0.18, 0.25), (0.19, -0.1),
           (0.2, 0.55), (0.21, 0.0), (0.22, 0.85), (0.23, -0.4), (0.24, 0.3), (0.25, 0.6), (0.26, -0.2), (0.27, 0.45), (0.28, 0.05), (0.29, -0.45),
           (0.3, 0.5), (0.31, -0.15), (0.32, 0.3), (0.33, -0.5), (0.34, 0.15), (0.35, -0.35), (0.36, 0.2), (0.37, -0.6), (0.38, -0.2), (0.39, -0.75),
           (0.4, -0.35), (0.41, -0.95), (0.42, -0.55), (0.43, -1.2), (0.44, -0.8), (0.45, -1.35), (0.46, -1.0), (0.47, -1.5), (0.48, -1.15), (0.49, -1.7),
           (0.5, -1.25), (0.51, -1.6), (0.52, -1.05), (0.53, -1.45), (0.54, -0.9), (0.55, -1.3), (0.56, -0.75), (0.57, -1.05), (0.58, -0.45), (0.59, -0.8),
           (0.6, -0.2), (0.61, -0.55), (0.62, 0.05), (0.63, -0.35), (0.64, 0.3), (0.65, -0.1), (0.66, 0.45), (0.67, 0.0), (0.68, 0.65), (0.69, -0.2),
           (0.7, 0.35), (0.71, 0.8), (0.72, 0.05), (0.73, 0.55), (0.74, 0.2), (0.75, 0.9), (0.76, -0.15), (0.77, 0.45), (0.78, 0.7), (0.79, 0.1),
           (0.8, 0.6), (0.81, -0.2), (0.82, 0.35), (0.83, 0.85), (0.84, 0.0), (0.85, 0.5), (0.86, -0.3), (0.87, 0.75), (0.88, 0.2), (0.89, 0.95),
           (0.9, -0.1), (0.91, 0.5), (0.92, 0.3), (0.93, -0.25), (0.94, 0.65), (0.95, 0.1), (0.96, 0.45), (0.97, -0.15), (0.98, 0.8), (0.99, 0.2), (1.0, 0.0)]

# panel 0.01
orange_02 = [(0.49, 3.4), (0.509, 3.4), (0.005, 1.16), (0.014, 0.83), (0.017, 0.44), (0.025, 0.71), (0.033, 0.94), (0.045, 0.57), (0.047, 0.35), (0.043, 0.15),
             (0.048, -0.68), (0.053, -0.22), (0.056, 0.27), (0.059, 0.1), (0.071, -0.56), (0.079, 1.04), (0.085, 0.97), (0.087, 1.35), (0.126, 0.97), (0.139, 1.14),
             (0.147, 1.85), (0.152, 0.93), (0.174, 0.73), (0.188, 0.23), (0.192, -0.82), (0.194, -1.68), (0.201, -1.45), (0.204, -0.39), (0.206, -0.8), (0.207, -1.08),
             (0.213, -0.41), (0.217, 0.54), (0.219, 0.92), (0.221, 1.11), (0.229, 0.32), (0.231, 0.14), (0.245, -0.48), (0.252, 0.42), (0.247, -0.22), (0.26, -1.16),
             (0.264, -0.83), (0.267, -0.53), (0.269, -0.02), (0.292, 0.8), (0.299, -0.6), (0.315, 0.23), (0.318, -0.17), (0.322, -1.02), (0.324, -1.32), (0.334, -0.56),
             (0.335, 0.27), (0.336, -0.24), (0.342, -1.53), (0.343, -1.01), (0.347, -1.39), (0.353, -1.47), (0.357, -1.36), (0.362, -0.86), (0.368, -0.22), (0.37, -0.86),
             (0.375, -0.41), (0.379, -1.97), (0.381, -1.29), (0.385, -0.44), (0.392, -1.45), (0.4, 0.04), (0.411, 0.18), (0.456, -0.65), (0.483, -0.65), (0.487, 0.3),
             (0.542, 0.6), (0.56, -0.3), (0.585, -0.7), (0.6, 0.05), (0.615, -0.5), (0.63, -0.95), (0.645, 0.35), (0.655, -0.35), (0.672, -0.9), (0.675, -1.3),
             (0.69, -0.2), (0.705, 0.3), (0.72, -0.55), (0.735, -0.15), (0.75, -0.7), (0.765, -0.25), (0.774, 1.02), (0.775, 1.0), (0.78, -0.35), (0.792, -0.5),
             (0.796, -0.82), (0.81, 0.1), (0.83, -0.2), (0.852, 1.38), (0.857, 0.96), (0.87, 0.3), (0.885, 0.55), (0.909, 1.74), (0.92, 0.9), (0.939, 0.73),
             (0.95, 0.84), (0.962, 0.3), (0.988, 1.05), (0.995, 0.45)]
blue_02 = [(0.489, 2.69), (0.51, 2.69), (0.487, 2.09), (0.511, 2.09), (0.514, 1.91), (0.485, 1.85), (0.487, 1.69), (0.487, 1.56), (0.513, 1.69), (0.512, 1.56),
           (0.516, 0.99), (0.482, 0.99), (0.454, 1.15), (0.545, 1.14),
           (0.001, 0.6), (0.004, 0.44), (0.031, 0.57), (0.022, 0.28), (0.02, 0.18), (0.027, 0.15), (0.036, 0.11), (0.04, -0.29), (0.051, -0.15), (0.074, -0.27),
           (0.075, 0.61), (0.077, 0.87), (0.083, 0.9), (0.091, 0.78), (0.095, -0.02), (0.097, 0.47), (0.102, -0.08), (0.1, 0.44), (0.107, 0.15), (0.113, 0.6),
           (0.117, 0.67), (0.114, 0.8), (0.119, 0.35), (0.124, 0.14), (0.129, 1.41), (0.133, 0.85), (0.135, 1.11), (0.138, 0.61), (0.147, 1.35), (0.15, 0.9),
           (0.159, 0.61), (0.161, 0.3), (0.153, -0.11), (0.163, 1.17), (0.168, 1.66), (0.171, 0.91), (0.175, 0.61), (0.177, 0.27), (0.183, -0.14), (0.182, -0.28),
           (0.21, -1.17), (0.226, 0.44), (0.236, 0.44), (0.238, 0.14), (0.232, -0.27), (0.265, -0.5), (0.272, -0.36), (0.275, -0.74), (0.277, 0.45), (0.28, -0.07),
           (0.282, -0.59), (0.285, -0.71), (0.288, -0.47), (0.295, 0.44), (0.295, 0.14), (0.298, -0.17), (0.304, -1.02), (0.303, -1.56), (0.305, -0.94), (0.307, -0.86),
           (0.31, -1.01), (0.312, -0.71), (0.316, -0.46), (0.32, -0.4), (0.324, -1.29), (0.325, -2.08), (0.328, -2.2), (0.326, -2.42), (0.33, -1.53), (0.333, -0.41),
           (0.337, -1.31), (0.339, -1.73), (0.341, -1.87), (0.345, -0.95), (0.347, -1.16), (0.35, -0.92), (0.351, -1.22), (0.355, -1.48), (0.355, -1.93), (0.361, -0.68),
           (0.363, -1.05), (0.364, 0.14), (0.366, 0.3), (0.368, -0.86), (0.369, -1.05), (0.372, -0.68), (0.375, -0.08), (0.378, -2.02), (0.377, -2.6), (0.381, -1.77),
           (0.381, -2.31), (0.384, -0.22), (0.386, -0.23), (0.388, 0.38), (0.389, -0.43), (0.391, -0.58), (0.395, -1.97), (0.396, -1.73), (0.396, -1.57), (0.399, -0.65),
           (0.399, -0.32), (0.402, -0.77), (0.402, -1.38), (0.405, -1.35), (0.406, -0.59), (0.407, 0.66), (0.409, 0.32), (0.412, -0.5), (0.414, -1.31), (0.415, -0.65),
           (0.417, 1.05), (0.417, 0.59), (0.42, 0.42), (0.421, -0.28), (0.424, -0.68), (0.425, -0.76), (0.427, -1.16), (0.429, -0.78), (0.431, -0.65), (0.435, -1.45),
           (0.437, -1.51), (0.438, -1.07), (0.44, -0.78), (0.442, -1.57), (0.444, -1.63), (0.446, -1.31), (0.447, -0.56), (0.449, -0.59), (0.45, -0.26), (0.453, -0.08),
           (0.455, 0.11), (0.458, -0.11), (0.46, -0.02), (0.462, 0.52), (0.463, 0.69), (0.464, -0.05), (0.466, -0.71), (0.468, -1.05), (0.469, -0.2), (0.47, 0.55),
           (0.472, 0.84), (0.474, 0.42), (0.476, 0.3), (0.477, -0.17), (0.479, 0.61), (0.482, 0.26), (0.486, 0.07),
           (0.52, 0.25), (0.525, -0.1), (0.53, -0.2), (0.535, 0.4), (0.54, -0.15), (0.548, -0.05), (0.552, -0.3), (0.556, 0.2), (0.56, -0.55), (0.565, -0.25),
           (0.57, -0.6), (0.575, -0.1), (0.58, -0.75), (0.585, -0.4), (0.59, -0.9), (0.595, -0.55), (0.6, -1.1), (0.604, -1.96), (0.606, -2.36), (0.61, -0.7),
           (0.612, -1.3), (0.617, -2.05), (0.619, -1.6), (0.625, -2.2), (0.628, -0.85), (0.632, -1.2), (0.636, -0.5), (0.64, -1.45), (0.645, -0.8), (0.65, -0.35),
           (0.655, -1.05), (0.659, -1.23), (0.662, -0.6), (0.668, -1.55), (0.672, -2.08), (0.673, -2.2), (0.672, -2.41), (0.68, -0.75), (0.686, -1.0), (0.695, -1.42),
           (0.695, -1.55), (0.7, -0.4), (0.708, -0.85), (0.715, -0.6), (0.722, -1.05), (0.73, -0.3), (0.741, -1.14), (0.745, -0.5), (0.756, -0.76), (0.765, 0.05),
           (0.772, -0.45), (0.78, 0.2), (0.79, -0.2), (0.8, 0.35), (0.81, -0.35), (0.82, 0.5), (0.825, 0.63), (0.83, 1.18), (0.835, 0.1), (0.845, 0.75),
           (0.85, 0.3), (0.858, 0.55), (0.864, 0.84), (0.866, 1.41), (0.872, 0.2), (0.879, 0.72), (0.885, 0.4), (0.893, 0.9), (0.9, 0.55), (0.907, 1.38),
           (0.913, 1.44), (0.916, 1.26), (0.92, 0.5), (0.926, 0.78), (0.932, 0.35), (0.944, 0.84), (0.954, -0.04), (0.96, 0.6), (0.968, 0.45), (0.976, 1.08),
           (0.978, 1.46), (0.985, 0.5), (0.992, 0.15), (1.0, 0.6)]
# short horizontal runs of overlapping points in panel 0.01: (x0, x1, y, colour)
runs_02 = [(0.49, 0.51, 4.12, 'o'), (0.008, 0.018, 0.57, 'o'), (0.058, 0.074, -0.25, 'o'), (0.197, 0.203, -0.97, 'o'), (0.238, 0.246, -1.02, 'o'),
           (0.252, 0.26, -1.02, 'b'), (0.848, 0.856, 1.37, 'o'), (0.925, 0.934, 0.38, 'o'), (0.978, 0.99, 1.2, 'b'), (0.792, 0.8, -0.82, 'o'),
           (0.115, 0.125, 0.36, 'b'), (0.738, 0.745, -1.14, 'b')]

# panel 0.1: runs of identical values (x0, x1, y, colour)
runs_01 = [(0.413, 0.586, 1.97, 'o'), (0.393, 0.413, 1.15, 'o'), (0.586, 0.606, 1.15, 'o'),
           (0.369, 0.395, 0.38, 'b'), (0.606, 0.63, 0.38, 'b'), (0.339, 0.37, -0.115, 'b'), (0.63, 0.66, -0.115, 'b'),
           (0.0, 0.064, -0.41, 'b'), (0.146, 0.173, -0.41, 'b'), (0.823, 0.852, -0.41, 'b'),
           (0.064, 0.095, -0.557, 'b'), (0.673, 0.713, -0.557, 'b'), (0.716, 0.76, -0.557, 'b'),
           (0.095, 0.146, -0.807, 'b'), (0.176, 0.235, -0.807, 'b'), (0.238, 0.283, -0.807, 'b'), (0.287, 0.339, -0.807, 'b'),
           (0.66, 0.673, -0.807, 'b'), (0.763, 0.821, -0.807, 'b'), (0.852, 0.9, -0.807, 'b'),
           (0.902, 0.931, -0.31, 'b'), (0.931, 1.0, -0.17, 'b')]
dots_01 = [(0.175, -0.31), (0.237, -0.41), (0.284, -0.23), (0.714, 0.02), (0.761, -0.41), (0.822, -0.31), (0.9, -0.56)]

BG = '#EFD79B'
PANEL = '#4E3227'
BLUE = '#8FC8E6'
ORANGE = '#F49D1A'
RED = '#FF4A12'
CREAM = '#F6DFA8'
PT = 9

scatter_data = {
    3: (blue_07, orange_07, red_07_x, red_07_y),
    4: (blue_06, orange_06, red_06_x, red_06_y),
    5: (blue_05, orange_05, red_05_x, red_05_y),
    6: (blue_04, orange_04, [], None),
    7: (blue_03, orange_03, [], None),
    8: (blue_02, orange_02, [], None),
}
fits = {3: fit_07, 4: fit_06, 5: fit_05, 6: fit_04, 7: fit_03, 8: fit_02}

W, H = 1152, 6720
fig = plt.figure(figsize=(W / 100, H / 100), dpi=100)
fig.patch.set_facecolor(BG)

for k, title in enumerate(titles):
    top = 7 + k * 671.4
    strip = fig.add_axes([24 / W, 1 - (top + 23) / H, 1120 / W, 23 / H])
    strip.set_facecolor('#D0D0D0')
    strip.set_xticks([])
    strip.set_yticks([])
    for s in strip.spines.values():
        s.set_visible(False)
    strip.text(0.5, 0.5, title, ha='center', va='center', fontsize=8.5, color='#1A1A1A', transform=strip.transAxes)

    ax = fig.add_axes([24 / W, 1 - (top + 23 + 640) / H, 1120 / W, 640 / H])
    ax.set_facecolor(PANEL)
    ax.set_xlim(-0.05, 1.05)
    ax.set_ylim(-3.7, 5.22)
    for s in ax.spines.values():
        s.set_visible(False)
    ax.set_xticks([])
    ax.set_yticks([-2, 0, 2, 4])
    ax.set_yticklabels(['-2', '0', '2', '4'])
    ax.tick_params(axis='y', length=0, pad=6, labelsize=8.5, labelcolor='#1A1A1A')
    for yv in [-2, 0, 2, 4]:
        ax.axhline(yv, color='#33201A', lw=0.9, zorder=0.5)
    for yv in [-3, -1, 1, 3, 5]:
        ax.axhline(yv, color='#45291F', lw=0.7, ls=(0, (4, 4)), zorder=0.5)
    ax.axvline(0.38, color='black', lw=1.3, zorder=1)
    ax.axvline(0.66, color='black', lw=1.3, zorder=1)
    ax.axvline(0.5, color='#8C786A', lw=0.8, ls=(0, (1.5, 3)), zorder=1)

    if k < 3:
        ax.plot([0, 1], [0, 0], color=RED, lw=2.6 if k == 0 else 1.8, zorder=3, solid_capstyle='butt')
    elif k < 9:
        blue_pts, orange_pts, red_x, red_y = scatter_data[k]
        bp = np.array(blue_pts)
        op = np.array(orange_pts)
        ax.scatter(op[:, 0], op[:, 1], s=PT, color=ORANGE, linewidths=0, zorder=2)
        ax.scatter(bp[:, 0], bp[:, 1], s=PT, color=BLUE, linewidths=0, zorder=2)
        if red_x:
            ax.scatter(red_x, [red_y] * len(red_x), s=PT, color=RED, linewidths=0, zorder=2)
        if k == 8:
            for x0, x1, yv, c in runs_02:
                ax.plot([x0, x1], [yv, yv], color=ORANGE if c == 'o' else BLUE, lw=2.6, zorder=2, solid_capstyle='round')
        f = np.array(fits[k])
        ax.plot(f[:, 0], f[:, 1], color=BLUE, lw=1.4, zorder=3)
        ax.plot(f[:, 0], f[:, 1], color=ORANGE, lw=1.4, ls=(0, (1, 2.5)), zorder=3)
    else:
        for x0, x1, yv, c in runs_01:
            ax.plot([x0, x1], [yv, yv], color=ORANGE if c == 'o' else BLUE, lw=2.4, zorder=2, solid_capstyle='round')
        d = np.array(dots_01)
        ax.scatter(d[:, 0], d[:, 1], s=PT, color=BLUE, linewidths=0, zorder=2)
        f = np.array(fit_01)
        ax.plot(f[:, 0], f[:, 1], color=BLUE, lw=1.3, zorder=3)
        mid = (f[:, 0] >= 0.395) & (f[:, 0] <= 0.605)
        ax.plot(f[mid, 0], f[mid, 1], color=ORANGE, lw=1.5, zorder=3)

    ax.plot(ref_x, ref_y, color=CREAM, lw=2.0, zorder=4)
    ax.text(0.008, 0.002, title, transform=ax.transAxes, ha='left', va='bottom', fontsize=10.5, color='#DCC08E', zorder=5)

fig.savefig('out.png', dpi=100, facecolor=BG)
